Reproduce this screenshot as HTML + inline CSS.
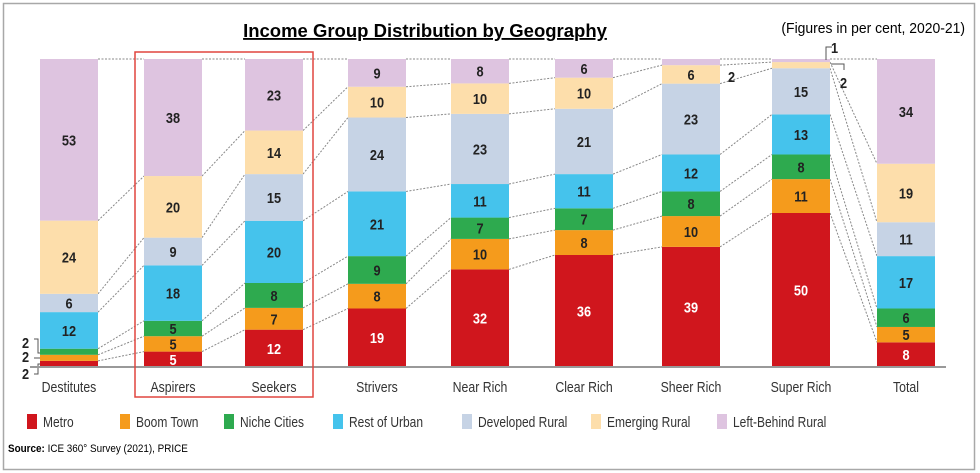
<!DOCTYPE html>
<html><head><meta charset="utf-8"><style>
body{margin:0;background:#fff;}
svg{display:block;font-family:"Liberation Sans",sans-serif;}
</style></head><body>
<svg id="c" width="980" height="473" viewBox="0 0 980 473">
<rect x="3.5" y="3.5" width="971" height="466" fill="#fff" stroke="#a8a8a8" stroke-width="1.5"/>
<text x="425" y="37" text-anchor="middle" font-weight="bold" font-size="18.5" text-decoration="underline">Income Group Distribution by Geography</text>
<text x="965" y="33" text-anchor="end" font-size="15" transform="translate(965,0) scale(0.93,1) translate(-965,0)">(Figures in per cent, 2020-21)</text>
<g id="conn"></g><g id="bars"></g><g id="ann"></g>
<line x1="30" y1="367" x2="946" y2="367" stroke="#999" stroke-width="2"/>
<rect x="135" y="52" width="178" height="345" fill="none" stroke="#e0453f" stroke-width="1.5"/>
<g id="legend"></g>
<text x="8" y="452" font-size="11" transform="translate(8,0) scale(0.9,1) translate(-8,0)"><tspan font-weight="bold">Source:</tspan> ICE 360° Survey (2021), PRICE</text>
</svg>
<script>
const categories=["Destitutes","Aspirers","Seekers","Strivers","Near Rich","Clear Rich","Sheer Rich","Super Rich","Total"];
const seriesNames=["Metro","Boom Town","Niche Cities","Rest of Urban","Developed Rural","Emerging Rural","Left-Behind Rural"];
const metro=[2,5,12,19,32,36,39,50,8];
const boomTown=[2,5,7,8,10,8,10,11,5];
const nicheCities=[2,5,8,9,7,7,8,8,6];
const restOfUrban=[12,18,20,21,11,11,12,13,17];
const developedRural=[6,9,15,24,23,21,23,15,11];
const emergingRural=[24,20,14,10,10,10,6,2,19];
const leftBehindRural=[53,38,23,9,8,6,2,1,34];
const series=[metro,boomTown,nicheCities,restOfUrban,developedRural,emergingRural,leftBehindRural];
const colors=["#d0161d","#f59b1c","#2eaa4f","#45c3ec","#c6d3e5","#fddeab","#dec4e0"];
const ns="http://www.w3.org/2000/svg";
const barLeft=[40,144,245,348,451,555,662,772,877];
const bw=58, y0=367, y1=59;
function yScale(cum,total){return y0-(cum/total)*(y0-y1);}
function narrow(t,x,s){t.setAttribute('transform','translate('+x+',0) scale('+s+',1) translate('+(-x)+',0)');}
const bars=document.getElementById('bars'),conn=document.getElementById('conn');
const bounds=[];
categories.forEach((cat,i)=>{
  let total=0;series.forEach(s=>total+=s[i]);
  let cum=0;const b=[y0];
  series.forEach((s,k)=>{
    const v=s[i];const ya=yScale(cum,total);cum+=v;const yb=yScale(cum,total);
    b.push(yb);
    const r=document.createElementNS(ns,'rect');
    r.setAttribute('x',barLeft[i]);r.setAttribute('y',yb);r.setAttribute('width',bw);r.setAttribute('height',ya-yb);r.setAttribute('fill',colors[k]);
    
    
    bars.appendChild(r);
    if(v>=4){
      const t=document.createElementNS(ns,'text');
      const cx=barLeft[i]+bw/2;
      t.setAttribute('x',cx);t.setAttribute('y',(ya+yb)/2+5.5);t.setAttribute('text-anchor','middle');
      t.setAttribute('font-size','15');t.setAttribute('font-weight','bold');t.setAttribute('fill',k==0?'#fff':'#222');
      narrow(t,cx,0.85);
      t.textContent=v;
      
      
      bars.appendChild(t);
    }
  });
  bounds.push(b);
  const l=document.createElementNS(ns,'text');
  const cx=barLeft[i]+bw/2;
  l.setAttribute('x',cx);l.setAttribute('y',392);l.setAttribute('text-anchor','middle');l.setAttribute('font-size','15');l.setAttribute('fill','#333');
  narrow(l,cx,0.82);
  l.textContent=cat;
  
  
  bars.appendChild(l);
});
for(let i=0;i<categories.length-1;i++){
  for(let k=1;k<bounds[i].length;k++){
    const ln=document.createElementNS(ns,'line');
    ln.setAttribute('x1',barLeft[i]+bw);ln.setAttribute('y1',bounds[i][k]);ln.setAttribute('x2',barLeft[i+1]);ln.setAttribute('y2',bounds[i+1][k]);
    ln.setAttribute('stroke','#888');ln.setAttribute('stroke-width','1');ln.setAttribute('stroke-dasharray','2,1.5');
    
    
    conn.appendChild(ln);
  }
}
const ann=document.getElementById('ann');
function callout(txt,x,y,path){
  const t=document.createElementNS(ns,'text');t.setAttribute('x',x);t.setAttribute('y',y);t.setAttribute('font-size','15');t.setAttribute('font-weight','bold');t.setAttribute('fill','#222');t.textContent=txt;
  narrow(t,x,0.85);
  
  
  ann.appendChild(t);
  if(path){const p=document.createElementNS(ns,'path');p.setAttribute('d',path);p.setAttribute('fill','none');p.setAttribute('stroke','#555');p.setAttribute('stroke-width','1');
  
  
  ann.appendChild(p);}
}
callout(String(nicheCities[0]),22,348,"M34 339 H38 V353 H40");
callout(String(boomTown[0]),22,362,"M34 358 H40");
callout(String(metro[0]),22,379,"M34 374 H38 V364 H40");
callout(String(leftBehindRural[6]),728,82,null);
callout(String(leftBehindRural[7]),831,53,"M826 60 V47 H832");
callout(String(emergingRural[7]),840,88,"M831 64 H844 V70");
const lg=document.getElementById('legend');
const lx=[27,120,224,333,462,591,717];
seriesNames.forEach((n,k)=>{
  const r=document.createElementNS(ns,'rect');r.setAttribute('x',lx[k]);r.setAttribute('y',414);r.setAttribute('width',10);r.setAttribute('height',15);r.setAttribute('fill',colors[k]);
  
  
  lg.appendChild(r);
  const t=document.createElementNS(ns,'text');const tx=lx[k]+16;
  t.setAttribute('x',tx);t.setAttribute('y',427);t.setAttribute('font-size','15');t.setAttribute('fill','#333');t.textContent=n;
  narrow(t,tx,0.8);
  
  
  lg.appendChild(t);
});
</script>
</body></html>
